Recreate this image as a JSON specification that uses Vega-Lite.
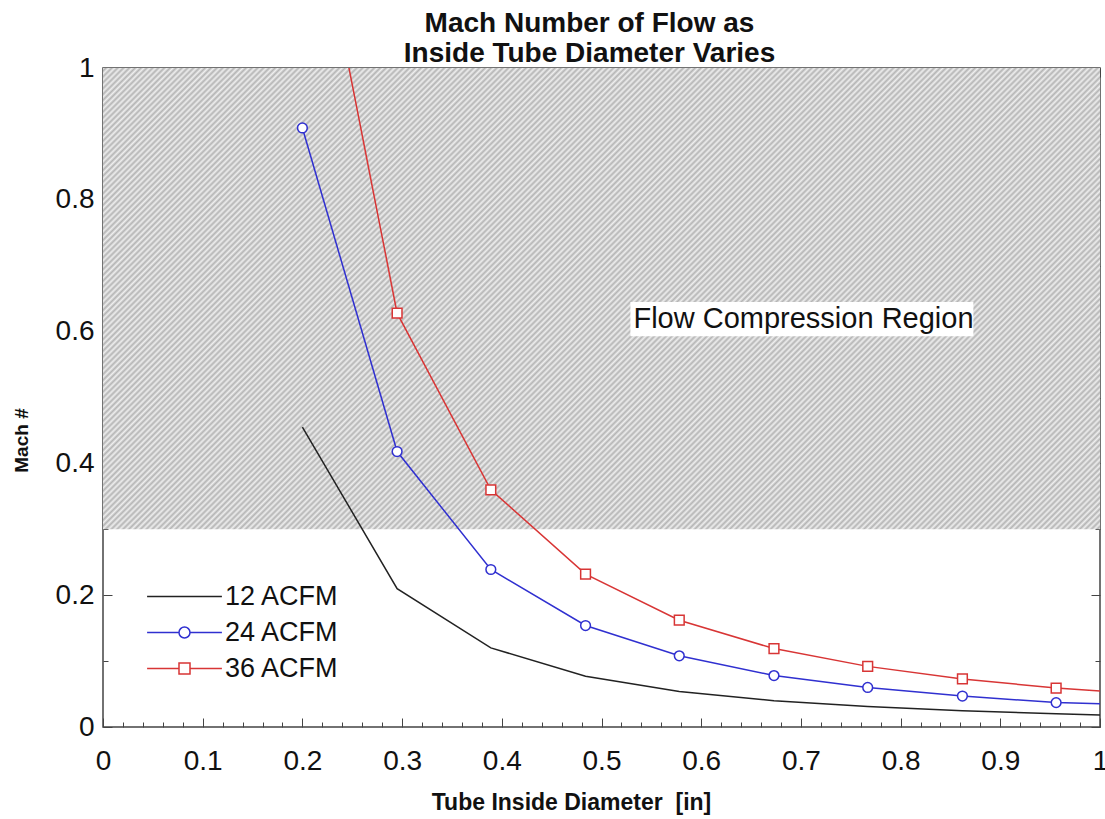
{
"$schema": "https://vega.github.io/schema/vega-lite/v6.json",
"width": 997,
"height": 659,
"autosize": {"type": "none"},
"padding": {"left": 103, "top": 68, "right": 5, "bottom": 92},
"background": "white",
"config": {
  "font": "Liberation Sans",
  "view": {"stroke": "#444", "strokeWidth": 1.5},
  "axis": {"domain": false, "grid": false, "tickColor": "#444", "tickWidth": 1, "labelColor": "#111", "titleColor": "#111"}
},
"title": {"text": ["Mach Number of Flow as", "Inside Tube Diameter Varies"], "fontSize": 28, "fontWeight": "bold", "font": "Liberation Sans", "lineHeight": 30, "anchor": "middle", "offset": -14, "dx": -12, "color": "#111"},
"datasets": {
  "curves": [
    {"series": "12 ACFM", "d": 0.2, "mach": 0.455},
    {"series": "12 ACFM", "d": 0.295, "mach": 0.21},
    {"series": "12 ACFM", "d": 0.389, "mach": 0.12},
    {"series": "12 ACFM", "d": 0.484, "mach": 0.077},
    {"series": "12 ACFM", "d": 0.578, "mach": 0.054},
    {"series": "12 ACFM", "d": 0.673, "mach": 0.04},
    {"series": "12 ACFM", "d": 0.767, "mach": 0.031},
    {"series": "12 ACFM", "d": 0.862, "mach": 0.0245},
    {"series": "12 ACFM", "d": 0.956, "mach": 0.02},
    {"series": "12 ACFM", "d": 1.05, "mach": 0.0165},
    {"series": "24 ACFM", "d": 0.2, "mach": 0.909},
    {"series": "24 ACFM", "d": 0.295, "mach": 0.418},
    {"series": "24 ACFM", "d": 0.389, "mach": 0.239},
    {"series": "24 ACFM", "d": 0.484, "mach": 0.154},
    {"series": "24 ACFM", "d": 0.578, "mach": 0.108},
    {"series": "24 ACFM", "d": 0.673, "mach": 0.078},
    {"series": "24 ACFM", "d": 0.767, "mach": 0.06},
    {"series": "24 ACFM", "d": 0.862, "mach": 0.047},
    {"series": "24 ACFM", "d": 0.956, "mach": 0.037},
    {"series": "24 ACFM", "d": 1.05, "mach": 0.033},
    {"series": "36 ACFM", "d": 0.2, "mach": 1.36},
    {"series": "36 ACFM", "d": 0.295, "mach": 0.628},
    {"series": "36 ACFM", "d": 0.389, "mach": 0.36},
    {"series": "36 ACFM", "d": 0.484, "mach": 0.232},
    {"series": "36 ACFM", "d": 0.578, "mach": 0.162},
    {"series": "36 ACFM", "d": 0.673, "mach": 0.119},
    {"series": "36 ACFM", "d": 0.767, "mach": 0.092},
    {"series": "36 ACFM", "d": 0.862, "mach": 0.073},
    {"series": "36 ACFM", "d": 0.956, "mach": 0.059},
    {"series": "36 ACFM", "d": 1.05, "mach": 0.05}
  ],
  "region": [{"label": "Flow Compression Region", "x0": 0, "x1": 1, "y0": 0.3, "y1": 1}],
  "note": [{"label": "Flow Compression Region", "x": 0.7026, "y": 0.619, "bx0": 0.529, "bx1": 0.873, "by0": 0.593, "by1": 0.645}]
},
"layer": [
  {
    "data": {"name": "region"},
    "mark": {"type": "rect", "strokeWidth": 0, "fill": {"gradient": "linear", "x1": 0, "y1": 0, "x2": 1.2048, "y2": 0.5574, "stops": [
{"offset":0.000,"color":"#eee"},{"offset":0.002,"color":"#b4b4b4"},{"offset":0.004,"color":"#eee"},{"offset":0.006,"color":"#b4b4b4"},{"offset":0.008,"color":"#eee"},
{"offset":0.010,"color":"#b4b4b4"},{"offset":0.012,"color":"#eee"},{"offset":0.014,"color":"#b4b4b4"},{"offset":0.016,"color":"#eee"},{"offset":0.018,"color":"#b4b4b4"},
{"offset":0.020,"color":"#eee"},{"offset":0.022,"color":"#b4b4b4"},{"offset":0.024,"color":"#eee"},{"offset":0.026,"color":"#b4b4b4"},{"offset":0.028,"color":"#eee"},
{"offset":0.030,"color":"#b4b4b4"},{"offset":0.032,"color":"#eee"},{"offset":0.034,"color":"#b4b4b4"},{"offset":0.036,"color":"#eee"},{"offset":0.038,"color":"#b4b4b4"},
{"offset":0.040,"color":"#eee"},{"offset":0.042,"color":"#b4b4b4"},{"offset":0.044,"color":"#eee"},{"offset":0.046,"color":"#b4b4b4"},{"offset":0.048,"color":"#eee"},
{"offset":0.050,"color":"#b4b4b4"},{"offset":0.052,"color":"#eee"},{"offset":0.054,"color":"#b4b4b4"},{"offset":0.056,"color":"#eee"},{"offset":0.058,"color":"#b4b4b4"},
{"offset":0.060,"color":"#eee"},{"offset":0.062,"color":"#b4b4b4"},{"offset":0.064,"color":"#eee"},{"offset":0.066,"color":"#b4b4b4"},{"offset":0.068,"color":"#eee"},
{"offset":0.070,"color":"#b4b4b4"},{"offset":0.072,"color":"#eee"},{"offset":0.074,"color":"#b4b4b4"},{"offset":0.076,"color":"#eee"},{"offset":0.078,"color":"#b4b4b4"},
{"offset":0.080,"color":"#eee"},{"offset":0.082,"color":"#b4b4b4"},{"offset":0.084,"color":"#eee"},{"offset":0.086,"color":"#b4b4b4"},{"offset":0.088,"color":"#eee"},
{"offset":0.090,"color":"#b4b4b4"},{"offset":0.092,"color":"#eee"},{"offset":0.094,"color":"#b4b4b4"},{"offset":0.096,"color":"#eee"},{"offset":0.098,"color":"#b4b4b4"},
{"offset":0.100,"color":"#eee"},{"offset":0.102,"color":"#b4b4b4"},{"offset":0.104,"color":"#eee"},{"offset":0.106,"color":"#b4b4b4"},{"offset":0.108,"color":"#eee"},
{"offset":0.110,"color":"#b4b4b4"},{"offset":0.112,"color":"#eee"},{"offset":0.114,"color":"#b4b4b4"},{"offset":0.116,"color":"#eee"},{"offset":0.118,"color":"#b4b4b4"},
{"offset":0.120,"color":"#eee"},{"offset":0.122,"color":"#b4b4b4"},{"offset":0.124,"color":"#eee"},{"offset":0.126,"color":"#b4b4b4"},{"offset":0.128,"color":"#eee"},
{"offset":0.130,"color":"#b4b4b4"},{"offset":0.132,"color":"#eee"},{"offset":0.134,"color":"#b4b4b4"},{"offset":0.136,"color":"#eee"},{"offset":0.138,"color":"#b4b4b4"},
{"offset":0.140,"color":"#eee"},{"offset":0.142,"color":"#b4b4b4"},{"offset":0.144,"color":"#eee"},{"offset":0.146,"color":"#b4b4b4"},{"offset":0.148,"color":"#eee"},
{"offset":0.150,"color":"#b4b4b4"},{"offset":0.152,"color":"#eee"},{"offset":0.154,"color":"#b4b4b4"},{"offset":0.156,"color":"#eee"},{"offset":0.158,"color":"#b4b4b4"},
{"offset":0.160,"color":"#eee"},{"offset":0.162,"color":"#b4b4b4"},{"offset":0.164,"color":"#eee"},{"offset":0.166,"color":"#b4b4b4"},{"offset":0.168,"color":"#eee"},
{"offset":0.170,"color":"#b4b4b4"},{"offset":0.172,"color":"#eee"},{"offset":0.174,"color":"#b4b4b4"},{"offset":0.176,"color":"#eee"},{"offset":0.178,"color":"#b4b4b4"},
{"offset":0.180,"color":"#eee"},{"offset":0.182,"color":"#b4b4b4"},{"offset":0.184,"color":"#eee"},{"offset":0.186,"color":"#b4b4b4"},{"offset":0.188,"color":"#eee"},
{"offset":0.190,"color":"#b4b4b4"},{"offset":0.192,"color":"#eee"},{"offset":0.194,"color":"#b4b4b4"},{"offset":0.196,"color":"#eee"},{"offset":0.198,"color":"#b4b4b4"},
{"offset":0.200,"color":"#eee"},{"offset":0.202,"color":"#b4b4b4"},{"offset":0.204,"color":"#eee"},{"offset":0.206,"color":"#b4b4b4"},{"offset":0.208,"color":"#eee"},
{"offset":0.210,"color":"#b4b4b4"},{"offset":0.212,"color":"#eee"},{"offset":0.214,"color":"#b4b4b4"},{"offset":0.216,"color":"#eee"},{"offset":0.218,"color":"#b4b4b4"},
{"offset":0.220,"color":"#eee"},{"offset":0.222,"color":"#b4b4b4"},{"offset":0.224,"color":"#eee"},{"offset":0.226,"color":"#b4b4b4"},{"offset":0.228,"color":"#eee"},
{"offset":0.230,"color":"#b4b4b4"},{"offset":0.232,"color":"#eee"},{"offset":0.234,"color":"#b4b4b4"},{"offset":0.236,"color":"#eee"},{"offset":0.238,"color":"#b4b4b4"},
{"offset":0.240,"color":"#eee"},{"offset":0.242,"color":"#b4b4b4"},{"offset":0.244,"color":"#eee"},{"offset":0.246,"color":"#b4b4b4"},{"offset":0.248,"color":"#eee"},
{"offset":0.250,"color":"#b4b4b4"},{"offset":0.252,"color":"#eee"},{"offset":0.254,"color":"#b4b4b4"},{"offset":0.256,"color":"#eee"},{"offset":0.258,"color":"#b4b4b4"},
{"offset":0.260,"color":"#eee"},{"offset":0.262,"color":"#b4b4b4"},{"offset":0.264,"color":"#eee"},{"offset":0.266,"color":"#b4b4b4"},{"offset":0.268,"color":"#eee"},
{"offset":0.270,"color":"#b4b4b4"},{"offset":0.272,"color":"#eee"},{"offset":0.274,"color":"#b4b4b4"},{"offset":0.276,"color":"#eee"},{"offset":0.278,"color":"#b4b4b4"},
{"offset":0.280,"color":"#eee"},{"offset":0.282,"color":"#b4b4b4"},{"offset":0.284,"color":"#eee"},{"offset":0.286,"color":"#b4b4b4"},{"offset":0.288,"color":"#eee"},
{"offset":0.290,"color":"#b4b4b4"},{"offset":0.292,"color":"#eee"},{"offset":0.294,"color":"#b4b4b4"},{"offset":0.296,"color":"#eee"},{"offset":0.298,"color":"#b4b4b4"},
{"offset":0.300,"color":"#eee"},{"offset":0.302,"color":"#b4b4b4"},{"offset":0.304,"color":"#eee"},{"offset":0.306,"color":"#b4b4b4"},{"offset":0.308,"color":"#eee"},
{"offset":0.310,"color":"#b4b4b4"},{"offset":0.312,"color":"#eee"},{"offset":0.314,"color":"#b4b4b4"},{"offset":0.316,"color":"#eee"},{"offset":0.318,"color":"#b4b4b4"},
{"offset":0.320,"color":"#eee"},{"offset":0.322,"color":"#b4b4b4"},{"offset":0.324,"color":"#eee"},{"offset":0.326,"color":"#b4b4b4"},{"offset":0.328,"color":"#eee"},
{"offset":0.330,"color":"#b4b4b4"},{"offset":0.332,"color":"#eee"},{"offset":0.334,"color":"#b4b4b4"},{"offset":0.336,"color":"#eee"},{"offset":0.338,"color":"#b4b4b4"},
{"offset":0.340,"color":"#eee"},{"offset":0.342,"color":"#b4b4b4"},{"offset":0.344,"color":"#eee"},{"offset":0.346,"color":"#b4b4b4"},{"offset":0.348,"color":"#eee"},
{"offset":0.350,"color":"#b4b4b4"},{"offset":0.352,"color":"#eee"},{"offset":0.354,"color":"#b4b4b4"},{"offset":0.356,"color":"#eee"},{"offset":0.358,"color":"#b4b4b4"},
{"offset":0.360,"color":"#eee"},{"offset":0.362,"color":"#b4b4b4"},{"offset":0.364,"color":"#eee"},{"offset":0.366,"color":"#b4b4b4"},{"offset":0.368,"color":"#eee"},
{"offset":0.370,"color":"#b4b4b4"},{"offset":0.372,"color":"#eee"},{"offset":0.374,"color":"#b4b4b4"},{"offset":0.376,"color":"#eee"},{"offset":0.378,"color":"#b4b4b4"},
{"offset":0.380,"color":"#eee"},{"offset":0.382,"color":"#b4b4b4"},{"offset":0.384,"color":"#eee"},{"offset":0.386,"color":"#b4b4b4"},{"offset":0.388,"color":"#eee"},
{"offset":0.390,"color":"#b4b4b4"},{"offset":0.392,"color":"#eee"},{"offset":0.394,"color":"#b4b4b4"},{"offset":0.396,"color":"#eee"},{"offset":0.398,"color":"#b4b4b4"},
{"offset":0.400,"color":"#eee"},{"offset":0.402,"color":"#b4b4b4"},{"offset":0.404,"color":"#eee"},{"offset":0.406,"color":"#b4b4b4"},{"offset":0.408,"color":"#eee"},
{"offset":0.410,"color":"#b4b4b4"},{"offset":0.412,"color":"#eee"},{"offset":0.414,"color":"#b4b4b4"},{"offset":0.416,"color":"#eee"},{"offset":0.418,"color":"#b4b4b4"},
{"offset":0.420,"color":"#eee"},{"offset":0.422,"color":"#b4b4b4"},{"offset":0.424,"color":"#eee"},{"offset":0.426,"color":"#b4b4b4"},{"offset":0.428,"color":"#eee"},
{"offset":0.430,"color":"#b4b4b4"},{"offset":0.432,"color":"#eee"},{"offset":0.434,"color":"#b4b4b4"},{"offset":0.436,"color":"#eee"},{"offset":0.438,"color":"#b4b4b4"},
{"offset":0.440,"color":"#eee"},{"offset":0.442,"color":"#b4b4b4"},{"offset":0.444,"color":"#eee"},{"offset":0.446,"color":"#b4b4b4"},{"offset":0.448,"color":"#eee"},
{"offset":0.450,"color":"#b4b4b4"},{"offset":0.452,"color":"#eee"},{"offset":0.454,"color":"#b4b4b4"},{"offset":0.456,"color":"#eee"},{"offset":0.458,"color":"#b4b4b4"},
{"offset":0.460,"color":"#eee"},{"offset":0.462,"color":"#b4b4b4"},{"offset":0.464,"color":"#eee"},{"offset":0.466,"color":"#b4b4b4"},{"offset":0.468,"color":"#eee"},
{"offset":0.470,"color":"#b4b4b4"},{"offset":0.472,"color":"#eee"},{"offset":0.474,"color":"#b4b4b4"},{"offset":0.476,"color":"#eee"},{"offset":0.478,"color":"#b4b4b4"},
{"offset":0.480,"color":"#eee"},{"offset":0.482,"color":"#b4b4b4"},{"offset":0.484,"color":"#eee"},{"offset":0.486,"color":"#b4b4b4"},{"offset":0.488,"color":"#eee"},
{"offset":0.490,"color":"#b4b4b4"},{"offset":0.492,"color":"#eee"},{"offset":0.494,"color":"#b4b4b4"},{"offset":0.496,"color":"#eee"},{"offset":0.498,"color":"#b4b4b4"},
{"offset":0.500,"color":"#eee"},{"offset":0.502,"color":"#b4b4b4"},{"offset":0.504,"color":"#eee"},{"offset":0.506,"color":"#b4b4b4"},{"offset":0.508,"color":"#eee"},
{"offset":0.510,"color":"#b4b4b4"},{"offset":0.512,"color":"#eee"},{"offset":0.514,"color":"#b4b4b4"},{"offset":0.516,"color":"#eee"},{"offset":0.518,"color":"#b4b4b4"},
{"offset":0.520,"color":"#eee"},{"offset":0.522,"color":"#b4b4b4"},{"offset":0.524,"color":"#eee"},{"offset":0.526,"color":"#b4b4b4"},{"offset":0.528,"color":"#eee"},
{"offset":0.530,"color":"#b4b4b4"},{"offset":0.532,"color":"#eee"},{"offset":0.534,"color":"#b4b4b4"},{"offset":0.536,"color":"#eee"},{"offset":0.538,"color":"#b4b4b4"},
{"offset":0.540,"color":"#eee"},{"offset":0.542,"color":"#b4b4b4"},{"offset":0.544,"color":"#eee"},{"offset":0.546,"color":"#b4b4b4"},{"offset":0.548,"color":"#eee"},
{"offset":0.550,"color":"#b4b4b4"},{"offset":0.552,"color":"#eee"},{"offset":0.554,"color":"#b4b4b4"},{"offset":0.556,"color":"#eee"},{"offset":0.558,"color":"#b4b4b4"},
{"offset":0.560,"color":"#eee"},{"offset":0.562,"color":"#b4b4b4"},{"offset":0.564,"color":"#eee"},{"offset":0.566,"color":"#b4b4b4"},{"offset":0.568,"color":"#eee"},
{"offset":0.570,"color":"#b4b4b4"},{"offset":0.572,"color":"#eee"},{"offset":0.574,"color":"#b4b4b4"},{"offset":0.576,"color":"#eee"},{"offset":0.578,"color":"#b4b4b4"},
{"offset":0.580,"color":"#eee"},{"offset":0.582,"color":"#b4b4b4"},{"offset":0.584,"color":"#eee"},{"offset":0.586,"color":"#b4b4b4"},{"offset":0.588,"color":"#eee"},
{"offset":0.590,"color":"#b4b4b4"},{"offset":0.592,"color":"#eee"},{"offset":0.594,"color":"#b4b4b4"},{"offset":0.596,"color":"#eee"},{"offset":0.598,"color":"#b4b4b4"},
{"offset":0.600,"color":"#eee"},{"offset":0.602,"color":"#b4b4b4"},{"offset":0.604,"color":"#eee"},{"offset":0.606,"color":"#b4b4b4"},{"offset":0.608,"color":"#eee"},
{"offset":0.610,"color":"#b4b4b4"},{"offset":0.612,"color":"#eee"},{"offset":0.614,"color":"#b4b4b4"},{"offset":0.616,"color":"#eee"},{"offset":0.618,"color":"#b4b4b4"},
{"offset":0.620,"color":"#eee"},{"offset":0.622,"color":"#b4b4b4"},{"offset":0.624,"color":"#eee"},{"offset":0.626,"color":"#b4b4b4"},{"offset":0.628,"color":"#eee"},
{"offset":0.630,"color":"#b4b4b4"},{"offset":0.632,"color":"#eee"},{"offset":0.634,"color":"#b4b4b4"},{"offset":0.636,"color":"#eee"},{"offset":0.638,"color":"#b4b4b4"},
{"offset":0.640,"color":"#eee"},{"offset":0.642,"color":"#b4b4b4"},{"offset":0.644,"color":"#eee"},{"offset":0.646,"color":"#b4b4b4"},{"offset":0.648,"color":"#eee"},
{"offset":0.650,"color":"#b4b4b4"},{"offset":0.652,"color":"#eee"},{"offset":0.654,"color":"#b4b4b4"},{"offset":0.656,"color":"#eee"},{"offset":0.658,"color":"#b4b4b4"},
{"offset":0.660,"color":"#eee"},{"offset":0.662,"color":"#b4b4b4"},{"offset":0.664,"color":"#eee"},{"offset":0.666,"color":"#b4b4b4"},{"offset":0.668,"color":"#eee"},
{"offset":0.670,"color":"#b4b4b4"},{"offset":0.672,"color":"#eee"},{"offset":0.674,"color":"#b4b4b4"},{"offset":0.676,"color":"#eee"},{"offset":0.678,"color":"#b4b4b4"},
{"offset":0.680,"color":"#eee"},{"offset":0.682,"color":"#b4b4b4"},{"offset":0.684,"color":"#eee"},{"offset":0.686,"color":"#b4b4b4"},{"offset":0.688,"color":"#eee"},
{"offset":0.690,"color":"#b4b4b4"},{"offset":0.692,"color":"#eee"},{"offset":0.694,"color":"#b4b4b4"},{"offset":0.696,"color":"#eee"},{"offset":0.698,"color":"#b4b4b4"},
{"offset":0.700,"color":"#eee"},{"offset":0.702,"color":"#b4b4b4"},{"offset":0.704,"color":"#eee"},{"offset":0.706,"color":"#b4b4b4"},{"offset":0.708,"color":"#eee"},
{"offset":0.710,"color":"#b4b4b4"},{"offset":0.712,"color":"#eee"},{"offset":0.714,"color":"#b4b4b4"},{"offset":0.716,"color":"#eee"},{"offset":0.718,"color":"#b4b4b4"},
{"offset":0.720,"color":"#eee"},{"offset":0.722,"color":"#b4b4b4"},{"offset":0.724,"color":"#eee"},{"offset":0.726,"color":"#b4b4b4"},{"offset":0.728,"color":"#eee"},
{"offset":0.730,"color":"#b4b4b4"},{"offset":0.732,"color":"#eee"},{"offset":0.734,"color":"#b4b4b4"},{"offset":0.736,"color":"#eee"},{"offset":0.738,"color":"#b4b4b4"},
{"offset":0.740,"color":"#eee"},{"offset":0.742,"color":"#b4b4b4"},{"offset":0.744,"color":"#eee"},{"offset":0.746,"color":"#b4b4b4"},{"offset":0.748,"color":"#eee"},
{"offset":0.750,"color":"#b4b4b4"},{"offset":0.752,"color":"#eee"},{"offset":0.754,"color":"#b4b4b4"},{"offset":0.756,"color":"#eee"},{"offset":0.758,"color":"#b4b4b4"},
{"offset":0.760,"color":"#eee"},{"offset":0.762,"color":"#b4b4b4"},{"offset":0.764,"color":"#eee"},{"offset":0.766,"color":"#b4b4b4"},{"offset":0.768,"color":"#eee"},
{"offset":0.770,"color":"#b4b4b4"},{"offset":0.772,"color":"#eee"},{"offset":0.774,"color":"#b4b4b4"},{"offset":0.776,"color":"#eee"},{"offset":0.778,"color":"#b4b4b4"},
{"offset":0.780,"color":"#eee"},{"offset":0.782,"color":"#b4b4b4"},{"offset":0.784,"color":"#eee"},{"offset":0.786,"color":"#b4b4b4"},{"offset":0.788,"color":"#eee"},
{"offset":0.790,"color":"#b4b4b4"},{"offset":0.792,"color":"#eee"},{"offset":0.794,"color":"#b4b4b4"},{"offset":0.796,"color":"#eee"},{"offset":0.798,"color":"#b4b4b4"},
{"offset":0.800,"color":"#eee"},{"offset":0.802,"color":"#b4b4b4"},{"offset":0.804,"color":"#eee"},{"offset":0.806,"color":"#b4b4b4"},{"offset":0.808,"color":"#eee"},
{"offset":0.810,"color":"#b4b4b4"},{"offset":0.812,"color":"#eee"},{"offset":0.814,"color":"#b4b4b4"},{"offset":0.816,"color":"#eee"},{"offset":0.818,"color":"#b4b4b4"},
{"offset":0.820,"color":"#eee"},{"offset":0.822,"color":"#b4b4b4"},{"offset":0.824,"color":"#eee"},{"offset":0.826,"color":"#b4b4b4"},{"offset":0.828,"color":"#eee"},
{"offset":0.830,"color":"#b4b4b4"},{"offset":0.832,"color":"#eee"},{"offset":0.834,"color":"#b4b4b4"},{"offset":0.836,"color":"#eee"},{"offset":0.838,"color":"#b4b4b4"},
{"offset":0.840,"color":"#eee"},{"offset":0.842,"color":"#b4b4b4"},{"offset":0.844,"color":"#eee"},{"offset":0.846,"color":"#b4b4b4"},{"offset":0.848,"color":"#eee"},
{"offset":0.850,"color":"#b4b4b4"},{"offset":0.852,"color":"#eee"},{"offset":0.854,"color":"#b4b4b4"},{"offset":0.856,"color":"#eee"},{"offset":0.858,"color":"#b4b4b4"},
{"offset":0.860,"color":"#eee"},{"offset":0.862,"color":"#b4b4b4"},{"offset":0.864,"color":"#eee"},{"offset":0.866,"color":"#b4b4b4"},{"offset":0.868,"color":"#eee"},
{"offset":0.870,"color":"#b4b4b4"},{"offset":0.872,"color":"#eee"},{"offset":0.874,"color":"#b4b4b4"},{"offset":0.876,"color":"#eee"},{"offset":0.878,"color":"#b4b4b4"},
{"offset":0.880,"color":"#eee"},{"offset":0.882,"color":"#b4b4b4"},{"offset":0.884,"color":"#eee"},{"offset":0.886,"color":"#b4b4b4"},{"offset":0.888,"color":"#eee"},
{"offset":0.890,"color":"#b4b4b4"},{"offset":0.892,"color":"#eee"},{"offset":0.894,"color":"#b4b4b4"},{"offset":0.896,"color":"#eee"},{"offset":0.898,"color":"#b4b4b4"},
{"offset":0.900,"color":"#eee"},{"offset":0.902,"color":"#b4b4b4"},{"offset":0.904,"color":"#eee"},{"offset":0.906,"color":"#b4b4b4"},{"offset":0.908,"color":"#eee"},
{"offset":0.910,"color":"#b4b4b4"},{"offset":0.912,"color":"#eee"},{"offset":0.914,"color":"#b4b4b4"},{"offset":0.916,"color":"#eee"},{"offset":0.918,"color":"#b4b4b4"},
{"offset":0.920,"color":"#eee"},{"offset":0.922,"color":"#b4b4b4"},{"offset":0.924,"color":"#eee"},{"offset":0.926,"color":"#b4b4b4"},{"offset":0.928,"color":"#eee"},
{"offset":0.930,"color":"#b4b4b4"},{"offset":0.932,"color":"#eee"},{"offset":0.934,"color":"#b4b4b4"},{"offset":0.936,"color":"#eee"},{"offset":0.938,"color":"#b4b4b4"},
{"offset":0.940,"color":"#eee"},{"offset":0.942,"color":"#b4b4b4"},{"offset":0.944,"color":"#eee"},{"offset":0.946,"color":"#b4b4b4"},{"offset":0.948,"color":"#eee"},
{"offset":0.950,"color":"#b4b4b4"},{"offset":0.952,"color":"#eee"},{"offset":0.954,"color":"#b4b4b4"},{"offset":0.956,"color":"#eee"},{"offset":0.958,"color":"#b4b4b4"},
{"offset":0.960,"color":"#eee"},{"offset":0.962,"color":"#b4b4b4"},{"offset":0.964,"color":"#eee"},{"offset":0.966,"color":"#b4b4b4"},{"offset":0.968,"color":"#eee"},
{"offset":0.970,"color":"#b4b4b4"},{"offset":0.972,"color":"#eee"},{"offset":0.974,"color":"#b4b4b4"},{"offset":0.976,"color":"#eee"},{"offset":0.978,"color":"#b4b4b4"},
{"offset":0.980,"color":"#eee"},{"offset":0.982,"color":"#b4b4b4"},{"offset":0.984,"color":"#eee"},{"offset":0.986,"color":"#b4b4b4"},{"offset":0.988,"color":"#eee"},
{"offset":0.990,"color":"#b4b4b4"},{"offset":0.992,"color":"#eee"},{"offset":0.994,"color":"#b4b4b4"},{"offset":0.996,"color":"#eee"},{"offset":0.998,"color":"#b4b4b4"},
{"offset":1.000,"color":"#eee"}
    ]}},
    "encoding": {
      "x": {"field": "x0", "type": "quantitative", "scale": {"domain": [0, 1], "nice": false, "zero": false},
        "axis": {"orient": "bottom", "values": [0,0.02,0.04,0.06,0.08,0.1,0.12,0.14,0.16,0.18,0.2,0.22,0.24,0.26,0.28,0.3,0.32,0.34,0.36,0.38,0.4,0.42,0.44,0.46,0.48,0.5,0.52,0.54,0.56,0.58,0.6,0.62,0.64,0.66,0.68,0.7,0.72,0.74,0.76,0.78,0.8,0.82,0.84,0.86,0.88,0.9,0.92,0.94,0.96,0.98,1],
          "labelExpr": "abs(datum.value*10-round(datum.value*10))<0.001 ? format(datum.value,'.1~f') : ''",
          "labelFontSize": 28, "labelPadding": 29, "labelFlush": false, "labelOverlap": false,
          "tickSize": {"condition": {"test": "abs(datum.value*10-round(datum.value*10))<0.001", "value": -9}, "value": -5},
          "title": "Tube Inside Diameter \u00a0[in]", "titleFontSize": 23, "titleFontWeight": "bold", "titlePadding": 12, "titleX": 468}},
      "x2": {"field": "x1"},
      "y": {"field": "y0", "type": "quantitative", "scale": {"domain": [0, 1], "nice": false, "zero": false},
        "axis": {"orient": "left", "values": [0,0.1,0.2,0.3,0.4,0.5,0.6,0.7,0.8,0.9,1],
          "labelExpr": "abs(datum.value*5-round(datum.value*5))<0.001 ? format(datum.value,'.1~f') : ''",
          "labelFontSize": 28, "labelPadding": 18, "labelFlush": false, "labelOverlap": false,
          "tickSize": {"condition": {"test": "abs(datum.value*5-round(datum.value*5))<0.001", "value": -9}, "value": -5},
          "title": "Mach #", "titleFontSize": 19, "titleFontWeight": "bold", "titlePadding": 24, "titleY": 372}},
      "y2": {"field": "y1"}
    }
  },
  {
    "data": {"name": "note"},
    "mark": {"type": "rect", "fill": "white", "strokeWidth": 0},
    "encoding": {
      "x": {"field": "bx0", "type": "quantitative", "axis": null},
      "x2": {"field": "bx1"},
      "y": {"field": "by0", "type": "quantitative", "axis": null},
      "y2": {"field": "by1"}
    }
  },
  {
    "data": {"name": "note"},
    "mark": {"type": "text", "fontSize": 29, "font": "Liberation Sans", "color": "#111", "align": "center", "baseline": "middle"},
    "encoding": {
      "x": {"field": "x", "type": "quantitative", "axis": null},
      "y": {"field": "y", "type": "quantitative", "axis": null},
      "text": {"field": "label"}
    }
  },
  {
    "data": {"name": "curves"},
    "mark": {"type": "line", "strokeWidth": 1.5, "clip": true},
    "encoding": {
      "x": {"field": "d", "type": "quantitative", "axis": {"orient": "top", "labels": false, "title": null, "values": [0,0.02,0.04,0.06,0.08,0.1,0.12,0.14,0.16,0.18,0.2,0.22,0.24,0.26,0.28,0.3,0.32,0.34,0.36,0.38,0.4,0.42,0.44,0.46,0.48,0.5,0.52,0.54,0.56,0.58,0.6,0.62,0.64,0.66,0.68,0.7,0.72,0.74,0.76,0.78,0.8,0.82,0.84,0.86,0.88,0.9,0.92,0.94,0.96,0.98,1],
        "tickSize": {"condition": {"test": "abs(datum.value*10-round(datum.value*10))<0.001", "value": -9}, "value": -5}}},
      "y": {"field": "mach", "type": "quantitative", "axis": {"orient": "right", "labels": false, "title": null, "values": [0,0.1,0.2,0.3,0.4,0.5,0.6,0.7,0.8,0.9,1],
        "tickSize": {"condition": {"test": "abs(datum.value*5-round(datum.value*5))<0.001", "value": -9}, "value": -5}}},
      "color": {"field": "series", "type": "nominal",
        "scale": {"domain": ["12 ACFM", "24 ACFM", "36 ACFM"], "range": ["#222222", "#3030d0", "#d83535"]},
        "legend": {"orient": "none", "legendX": 68, "legendY": 515, "title": null, "padding": 0,
          "symbolSize": 121, "symbolStrokeWidth": 1.5, "labelFontSize": 27, "labelFont": "Liberation Sans", "labelColor": "#111",
          "labelOffset": 27, "rowPadding": 8,
          "encode": {"symbols": {"update": {
            "shape": {"signal": "datum.value === '12 ACFM' ? 'M-6.8,0H6.8' : datum.value === '24 ACFM' ? 'M-6.8,0H-1M1,0H6.8M-1,0A1,1,0,1,0,1,0A1,1,0,1,0,-1,0Z' : 'M-6.8,0H-1M1,0H6.8M-1,-1H1V1H-1Z'"},
            "fill": {"value": "white"}}}}}}
    }
  },
  {
    "data": {"name": "curves"},
    "transform": [{"filter": "datum.series !== '12 ACFM'"}],
    "mark": {"type": "point", "filled": true, "fill": "white", "strokeWidth": 1.5, "size": 95, "clip": true, "opacity": 1},
    "encoding": {
      "x": {"field": "d", "type": "quantitative", "axis": null},
      "y": {"field": "mach", "type": "quantitative", "axis": null},
      "shape": {"field": "series", "type": "nominal", "scale": {"domain": ["24 ACFM", "36 ACFM"], "range": ["circle", "square"]}, "legend": null},
      "stroke": {"field": "series", "type": "nominal", "scale": {"domain": ["12 ACFM", "24 ACFM", "36 ACFM"], "range": ["#222222", "#3030d0", "#d83535"]}, "legend": null}
    }
  }
],
"resolve": {"axis": {"x": "independent", "y": "independent"}}
}
